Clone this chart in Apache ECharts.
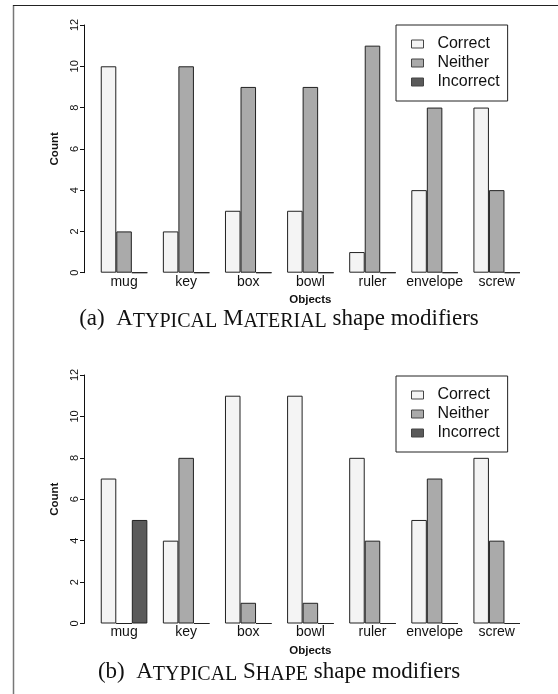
<!DOCTYPE html>
<html>
<head>
<meta charset="utf-8">
<script src="https://cdn.jsdelivr.net/npm/echarts@6/dist/echarts.min.js"></script>
<style>html,body{margin:0;padding:0;background:#fff}#c{width:558px;height:694px}</style>
</head>
<body>
<div id="c"></div>
<script>
// ---- data ----
var categories = ['mug', 'key', 'box', 'bowl', 'ruler', 'envelope', 'screw'];
var seriesNames = ['Correct', 'Neither', 'Incorrect'];
var yTicks = [0, 2, 4, 6, 8, 10, 12];
// (a) ATYPICAL MATERIAL
var materialCorrect = [10, 2, 3, 3, 1, 4, 8];
var materialNeither = [2, 10, 9, 9, 11, 8, 4];
var materialIncorrect = [0, 0, 0, 0, 0, 0, 0];
// (b) ATYPICAL SHAPE
var shapeCorrect = [7, 4, 11, 11, 8, 5, 8];
var shapeNeither = [0, 8, 1, 1, 4, 7, 4];
var shapeIncorrect = [5, 0, 0, 0, 0, 0, 0];

var colors = ['#f4f4f4', '#aaaaaa', '#5a5a5a'];
var SANS = 'Liberation Sans, Arial, sans-serif';
var SERIF = 'Liberation Serif, Times New Roman, serif';

var chart = echarts.init(document.getElementById('c'), null, {renderer: 'canvas'});

function xAxis(gi) {
  return {
    type: 'category', gridIndex: gi, data: categories,
    axisLine: {show: false}, axisTick: {show: false},
    axisLabel: {interval: 0, fontSize: 14, color: '#111', fontFamily: SANS, margin: 2, hideOverlap: false},
    name: 'Objects', nameLocation: 'middle', nameGap: 21, nameMoveOverlap: false,
    nameTextStyle: {fontSize: 11.5, fontWeight: 'bold', color: '#111', fontFamily: SANS}
  };
}
function yAxis(gi) {
  return {
    type: 'value', gridIndex: gi, min: yTicks[0], max: yTicks[yTicks.length - 1], interval: 2,
    offset: 9,
    axisLine: {show: true, lineStyle: {color: '#111', width: 1}},
    axisTick: {show: true, length: 4, lineStyle: {color: '#111', width: 1}},
    splitLine: {show: false},
    axisLabel: {rotate: 90, fontSize: 11, color: '#111', fontFamily: SANS, margin: 4},
    name: 'Count', nameLocation: 'middle', nameRotate: 90, nameGap: 23, nameMoveOverlap: false,
    nameTextStyle: {fontSize: 11.5, fontWeight: 'bold', color: '#111', fontFamily: SANS}
  };
}
function bars(gi, arrs) {
  return arrs.map(function (d, i) {
    return {
      type: 'bar', name: seriesNames[i], xAxisIndex: gi, yAxisIndex: gi, data: d,
      barGap: '0%', barCategoryGap: '25%',
      itemStyle: {color: colors[i], borderColor: '#222', borderWidth: 1},
      emphasis: {disabled: true}, animation: false
    };
  });
}
function legend(top) {
  return {
    orient: 'vertical', left: 396, top: top, data: seriesNames,
    borderColor: '#222', borderWidth: 1, padding: [11, 8, 11, 15],
    itemWidth: 12, itemHeight: 8, itemGap: 3, icon: 'rect',
    itemStyle: {borderColor: '#444', borderWidth: 1},
    formatter: function (n) { return '  ' + n; },
    textStyle: {fontSize: 16, color: '#111', fontFamily: SANS},
    selectedMode: false
  };
}
var capRich = {s: {fontSize: 20, fontFamily: SERIF, color: '#111', verticalAlign: 'bottom', lineHeight: 26}};
var capStyle = {fontSize: 23, fontWeight: 'normal', fontFamily: SERIF, color: '#111', lineHeight: 26, rich: capRich};
chart.setOption({
  animation: false,
  grid: [
    {left: 93, right: 30.25, top: 25, bottom: 421.3, outerBoundsMode: 'none'},
    {left: 93, right: 30.25, top: 375, bottom: 70.5, outerBoundsMode: 'none'}
  ],
  xAxis: [xAxis(0), xAxis(1)],
  yAxis: [yAxis(0), yAxis(1)],
  legend: [legend(25), legend(376)],
  title: [
    {text: '(a)  A{s|TYPICAL} M{s|ATERIAL} shape modifiers', left: 'center', top: 306, padding: 0, textStyle: capStyle},
    {text: '(b)  A{s|TYPICAL} S{s|HAPE} shape modifiers', left: 'center', top: 659, padding: 0, textStyle: capStyle}
  ],
  graphic: [
    {type: 'line', shape: {x1: 13.5, y1: 5, x2: 13.5, y2: 694}, style: {stroke: '#777', lineWidth: 1.5}},
    {type: 'line', shape: {x1: 13, y1: 5.5, x2: 558, y2: 5.5}, style: {stroke: '#222', lineWidth: 1.2}}
  ],
  series: bars(0, [materialCorrect, materialNeither, materialIncorrect])
    .concat(bars(1, [shapeCorrect, shapeNeither, shapeIncorrect]))
});
</script>
</body>
</html>
